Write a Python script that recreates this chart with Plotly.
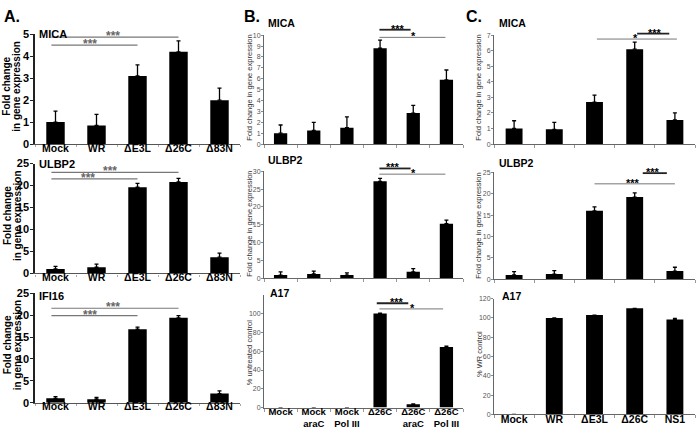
import plotly.graph_objects as go

W, H = 696, 435
FONT = "Arial, Liberation Sans, sans-serif"

# ---------------- data ----------------
a_cats = ["Mock", "WR", "ΔE3L", "Δ26C", "Δ83N"]
a_mica = [1.0, 0.85, 3.1, 4.2, 2.0]
a_mica_err = [0.5, 0.5, 0.5, 0.5, 0.55]
a_ulbp2 = [1.0, 1.4, 19.6, 20.8, 3.7]
a_ulbp2_err = [0.6, 0.7, 0.9, 0.8, 0.9]
a_ifi16 = [1.0, 0.8, 16.8, 19.4, 2.1]
a_ifi16_err = [0.4, 0.4, 0.5, 0.5, 0.6]

b_cats = ["Mock", "Mock<br>araC", "Mock<br>Pol III", "Δ26C", "Δ26C<br>araC", "Δ26C<br>Pol III"]
b_mica = [1.0, 1.25, 1.5, 8.8, 2.85, 5.9]
b_mica_err = [0.75, 0.75, 1.0, 0.75, 0.7, 0.9]
b_ulbp2 = [0.9, 1.2, 0.9, 27.2, 1.8, 15.3]
b_ulbp2_err = [0.9, 0.8, 0.6, 0.8, 0.9, 1.0]
b_a17 = [0, 0, 0, 100, 3.5, 64.5]
b_a17_err = [0, 0, 0, 0.5, 0.5, 0.8]

c_cats = ["Mock", "WR", "ΔE3L", "Δ26C", "NS1"]
c_mica = [1.0, 0.95, 2.7, 6.1, 1.55]
c_mica_err = [0.5, 0.45, 0.45, 0.45, 0.45]
c_ulbp2 = [1.0, 1.2, 16.0, 19.2, 1.9]
c_ulbp2_err = [0.8, 0.8, 0.9, 1.0, 0.9]
c_a17 = [0, 100, 103, 110, 98.5]
c_a17_err = [0, 0, 0, 0, 1.0]

# ---------------- layout helpers ----------------
def px(x):
    return x / W

def py(y):
    return 1 - y / H

# significance bars: (start idx, end idx, level, label, label idx, style)
panels = [
    dict(group="A", cats=a_cats, y=a_mica, err=a_mica_err, xpx=(35, 240), ypx=(29, 142),
         yrange=[0, 5], tickvals=[0, 1, 2, 3, 4, 5], showx=True, name="MICA", namepos=(37, 29),
         ytitle=["Fold change", "in gene expression"], ytpos=(7, 83), width=0.45,
         sig=[(-0.1, 3, 4.87, "***", 1.4, "grey"), (-0.1, 2, 4.5, "***", 0.84, "grey")]),
    dict(group="A", cats=a_cats, y=a_ulbp2, err=a_ulbp2_err, xpx=(35, 240), ypx=(162, 275),
         yrange=[0, 25], tickvals=[0, 5, 10, 15, 20, 25], showx=True, name="ULBP2", namepos=(37, 162),
         ytitle=["Fold change", "in gene expression"], ytpos=(7, 216), width=0.45,
         sig=[(-0.1, 3, 23.0, "***", 1.33, "grey"), (-0.1, 2, 21.5, "***", 0.79, "grey")]),
    dict(group="A", cats=a_cats, y=a_ifi16, err=a_ifi16_err, xpx=(35, 240), ypx=(295.5, 408),
         yrange=[0, 25], tickvals=[0, 5, 10, 15, 20, 25], showx=True, name="IFI16", namepos=(37, 298),
         ytitle=["Fold change", "in gene expression"], ytpos=(7, 349), width=0.45,
         sig=[(-0.1, 3, 21.6, "***", 1.4, "grey"), (-0.1, 2, 19.9, "***", 0.84, "grey")]),
    dict(group="B", cats=b_cats, y=b_mica, err=b_mica_err, xpx=(264, 463), ypx=(30, 142),
         yrange=[0, 10], tickvals=list(range(11)), showx=False, name="MICA", namepos=(266, 17),
         ytitle=["Fold change in gene expression"], ytpos=(250, 84), width=0.4,
         sig=[(2.98, 3.92, 10.5, "***", 3.55, "thick"), (2.98, 4.97, 9.8, "*", 4.0, "thin")]),
    dict(group="B", cats=b_cats, y=b_ulbp2, err=b_ulbp2_err, xpx=(264, 463), ypx=(170, 280),
         yrange=[0, 30], tickvals=[0, 5, 10, 15, 20, 25, 30], showx=False, name="ULBP2", namepos=(266, 158),
         ytitle=["Fold change in gene expression"], ytpos=(250, 224), width=0.4,
         sig=[(2.98, 3.92, 30.8, "***", 3.4, "thick"), (2.98, 4.97, 29.2, "*", 4.0, "thin")]),
    dict(group="B", cats=b_cats, y=b_a17, err=b_a17_err, xpx=(264, 463), ypx=(297, 413),
         yrange=[0, 120], tickvals=[0, 20, 40, 60, 80, 100], showx=True, name="A17", namepos=(268, 295),
         ytitle=["% untreated control"], ytpos=(249, 357), width=0.4,
         sig=[(2.9, 3.85, 111, "***", 3.5, "thick"), (2.98, 4.9, 105, "*", 3.97, "thin")]),
    dict(group="C", cats=c_cats, y=c_mica, err=c_mica_err, xpx=(494, 695), ypx=(30, 142),
         yrange=[0, 7], tickvals=list(range(8)), showx=False, name="MICA", namepos=(497, 17),
         ytitle=["Fold change in gene expression"], ytpos=(479, 84), width=0.42,
         sig=[(3.06, 3.86, 7.1, "***", 3.5, "thick"), (2.06, 4.05, 6.75, "*", 3.03, "thin")]),
    dict(group="C", cats=c_cats, y=c_ulbp2, err=c_ulbp2_err, xpx=(494, 695), ypx=(171, 281),
         yrange=[0, 25], tickvals=[0, 5, 10, 15, 20, 25], showx=False, name="ULBP2", namepos=(497, 161),
         ytitle=["Fold change in gene expression"], ytpos=(479, 226), width=0.42,
         sig=[(3.2, 3.8, 24.8, "***", 3.45, "thick"), (2.0, 4.0, 22.3, "***", 2.96, "thin")]),
    dict(group="C", cats=c_cats, y=c_a17, err=c_a17_err, xpx=(494, 695), ypx=(301, 420),
         yrange=[0, 120], tickvals=[0, 20, 40, 60, 80, 100, 120], showx=True, name="A17", namepos=(500, 298),
         ytitle=["% WR control"], ytpos=(479, 358), width=0.42,
         sig=[]),
]

fig = go.Figure()
layout = dict(width=W, height=H, margin=dict(l=0, r=0, t=0, b=0),
              paper_bgcolor="white", plot_bgcolor="white", showlegend=False,
              font=dict(family=FONT, color="black"))
shapes = []
annotations = []

for k, p in enumerate(panels, start=1):
    xa, ya = f"x{k}", f"y{k}"
    n = len(p["cats"])
    fig.add_trace(go.Bar(
        x=p["cats"], y=p["y"], xaxis=xa, yaxis=ya, width=p["width"],
        marker=dict(color="black", line=dict(width=0)),
        error_y=dict(type="data", symmetric=False, array=p["err"], arrayminus=[0] * n,
                     color="black", thickness=1.3, width=2),
        hoverinfo="skip",
    ))
    grp = p["group"]
    isA = grp == "A"
    xdom = [px(p["xpx"][0]), px(p["xpx"][1])]
    ydom = [py(p["ypx"][1]), py(p["ypx"][0])]
    if isA:
        xaxis = dict(domain=xdom, anchor=ya, type="category", range=[-0.5, n - 0.5],
                     showline=True, linecolor="#555", linewidth=1.2, ticks="outside",
                     tickson="boundaries", ticklen=2, tickcolor="#aaa", tickangle=0,
                     showticklabels=p["showx"], ticklabelstandoff=-6,
                     tickfont=dict(size=10.5, weight="bold", color="black"),
                     showgrid=False, zeroline=False, fixedrange=True)
        yaxis = dict(domain=ydom, anchor=xa, range=p["yrange"], tickvals=p["tickvals"],
                     showline=True, linecolor="#222", linewidth=1.5, ticks="outside",
                     ticklen=3, tickcolor="#222", ticklabelstandoff=-1,
                     tickfont=dict(size=11, weight="bold", color="black"),
                     showgrid=False, zeroline=False, fixedrange=True)
    else:
        xsize = 9.5 if grp == "B" else 10.5
        xaxis = dict(domain=xdom, anchor=ya, type="category", range=[-0.5, n - 0.5],
                     showline=True, linecolor="#666", linewidth=1, ticks="outside",
                     tickson="boundaries", ticklen=3, tickcolor="#999", tickangle=0,
                     showticklabels=p["showx"], ticklabelstandoff=-5,
                     tickfont=dict(size=xsize, weight="bold", color="black"),
                     showgrid=False, zeroline=False, fixedrange=True)
        yaxis = dict(domain=ydom, anchor=xa, range=p["yrange"], tickvals=p["tickvals"],
                     showline=True, linecolor="#666", linewidth=1, ticks="outside",
                     ticklen=2, tickcolor="#888", tickfont=dict(size=7, color="#555"),
                     ticklabelstandoff=-1,
                     showgrid=False, zeroline=False, fixedrange=True)
    key = "" if k == 1 else str(k)
    layout["xaxis" + key] = xaxis
    layout["yaxis" + key] = yaxis

    # subplot name
    annotations.append(dict(x=px(p["namepos"][0]), y=py(p["namepos"][1]), xref="paper", yref="paper",
                            text=p["name"], showarrow=False, xanchor="left", yanchor="middle",
                            font=dict(size=11 if isA else 10.5, weight="bold", color="black")))
    # y title (one annotation per line)
    for j, line in enumerate(p["ytitle"]):
        annotations.append(dict(x=px(p["ytpos"][0] + 10 * j), y=py(p["ytpos"][1]),
                                xref="paper", yref="paper",
                                text=line, showarrow=False, textangle=-90,
                                xanchor="center", yanchor="middle",
                                font=dict(size=10 if isA else 7.5,
                                          weight="bold" if isA else "normal",
                                          color="black" if isA else "#333")))
    # significance bars, positioned through the subplot's own scale
    x0d, x1d = xdom
    y0d, y1d = ydom
    def xs(idx):
        return x0d + (idx + 0.5) / n * (x1d - x0d)
    def ys(v):
        return y0d + (v - p["yrange"][0]) / (p["yrange"][1] - p["yrange"][0]) * (y1d - y0d)
    for (i0, i1, lev, lab, li, style) in p["sig"]:
        if style == "grey":
            col, lw, scol, ssz = "#777", 1.2, "#666", 12
        elif style == "thick":
            col, lw, scol, ssz = "#222", 1.8, "black", 11
        else:
            col, lw, scol, ssz = "#777", 1.0, "black", 11
        shapes.append(dict(type="line", xref="paper", yref="paper",
                           x0=xs(i0), x1=xs(i1), y0=ys(lev), y1=ys(lev),
                           line=dict(color=col, width=lw)))
        annotations.append(dict(x=xs(li), y=ys(lev), xref="paper", yref="paper", text=lab,
                                showarrow=False, xanchor="center", yanchor="middle", yshift=1,
                                font=dict(size=ssz, weight="bold", color=scol)))

# panel letters
for letter, (lx, ly) in {"A.": (2, 11), "B.": (242, 11), "C.": (464, 11)}.items():
    annotations.append(dict(x=px(lx), y=py(ly), xref="paper", yref="paper", text=letter,
                            showarrow=False, xanchor="left", yanchor="middle",
                            font=dict(size=16, weight="bold", color="black")))

layout["shapes"] = shapes
layout["annotations"] = annotations
fig.update_layout(**layout)
fig.write_html("out.html", config={"displayModeBar": False},
               post_script="document.body.style.margin='0';document.body.style.overflow='hidden';")
